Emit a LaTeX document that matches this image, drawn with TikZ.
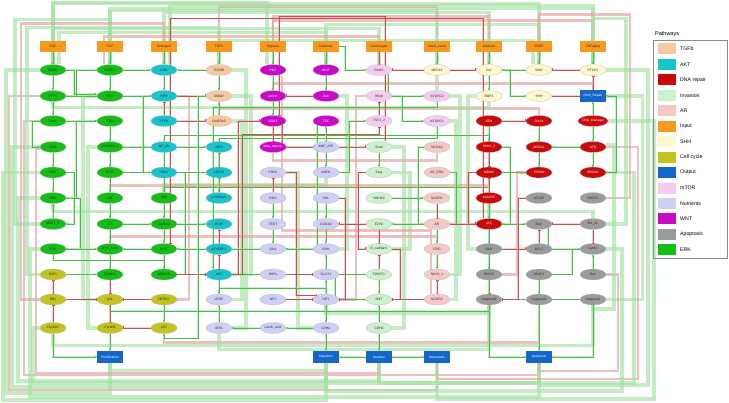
\documentclass[tikz,border=0pt]{standalone}
\usepackage{fontspec}
\setmainfont{Liberation Sans}
\usetikzlibrary{arrows.meta,shapes.geometric,calc,backgrounds}
\definecolor{cTGF}{HTML}{F8C9A0}
\definecolor{cAKT}{HTML}{19C3CC}
\definecolor{cDNA}{HTML}{C80A0A}
\definecolor{cINV}{HTML}{CDF0CD}
\definecolor{cAR}{HTML}{F5C8C8}
\definecolor{cIN}{HTML}{F59A1E}
\definecolor{cSHH}{HTML}{FFF8CC}
\definecolor{cCC}{HTML}{C3C31E}
\definecolor{cOUT}{HTML}{1466C8}
\definecolor{cMTR}{HTML}{F5CCF0}
\definecolor{cNUT}{HTML}{CFCFF5}
\definecolor{cWNT}{HTML}{C80AC8}
\definecolor{cAPO}{HTML}{9B9B9B}
\definecolor{cERK}{HTML}{14BE14}
\definecolor{eG}{HTML}{46BE46}
\definecolor{eR}{HTML}{C85050}
\definecolor{bGc}{HTML}{A4E2A4}
\definecolor{bRc}{HTML}{E6A4A4}
\tikzset{
 nb/.style={ellipse,minimum width=26pt,minimum height=11pt,inner sep=0pt,draw=black!30,line width=.2pt,font=\fontsize{3.3}{3.6}\selectfont,text=black!85},
 erk/.style={nb,fill=cERK},
 akt/.style={nb,fill=cAKT},
 tgf/.style={nb,fill=cTGF},
 wnt/.style={nb,fill=cWNT,text=white},
 mtr/.style={nb,fill=cMTR},
 shh/.style={nb,fill=cSHH},
 dna/.style={nb,fill=cDNA,text=white},
 nut/.style={nb,fill=cNUT},
 inv/.style={nb,fill=cINV},
 arn/.style={nb,fill=cAR},
 apo/.style={nb,fill=cAPO},
 ccy/.style={nb,fill=cCC},
 inbox/.style={rectangle,minimum width=26pt,minimum height=11pt,inner sep=0pt,fill=cIN,font=\fontsize{3.3}{3.6}\selectfont,text=black!85},
 outbox/.style={rectangle,minimum width=26pt,minimum height=12pt,inner sep=0pt,fill=cOUT,text=white,font=\fontsize{3.3}{3.6}\selectfont},
 act/.style={preaction={draw=bGc,line width=1.6pt,opacity=.55,-},draw=eG,line width=.45pt,-{Stealth[length=2.2pt,width=2pt]}},
 inh/.style={preaction={draw=bRc,line width=1.6pt,opacity=.5,-},draw=eR,line width=.45pt,-{Bar[width=3pt]}},
 bG/.style={draw=bGc,line width=3.4pt,opacity=.65},
 bR/.style={draw=bRc,line width=2.6pt,opacity=.7},
 legsq/.style={rectangle,minimum width=18pt,minimum height=11pt,inner sep=0pt},
 legtx/.style={anchor=west,font=\fontsize{5.2}{6}\selectfont,inner sep=0pt},
}
\begin{document}
\begin{tikzpicture}[x=1pt,y=-1pt]
\useasboundingbox (0,0) rectangle (729,403);
% inputs
\node[inbox] (EGF) at (53,46.5) {EGF};
\node[inbox] (FGF) at (110,46.5) {FGF};
\node[inbox] (Androgen) at (164,46.5) {Androgen};
\node[inbox] (TGFb) at (219,46.5) {TGFb};
\node[inbox] (Hypoxia) at (273,46.5) {Hypoxia};
\node[inbox] (Nutrients) at (326,46.5) {Nutrients};
\node[inbox] (Carcinogen) at (379,46.5) {Carcinogen};
\node[inbox] (fused) at (437,46.5) {fused\_event};
\node[inbox] (Acidosis) at (489,46.5) {Acidosis};
\node[inbox] (SPOP) at (539,46.5) {SPOP};
\node[inbox] (TNFalpha) at (593,46.5) {TNFalpha};
% row 1
\node[erk] (EGFR) at (53,70) {EGFR};
\node[erk] (FGFR3) at (110,70) {FGFR3};
\node[akt] (PI3K) at (164,70) {PI3K};
\node[tgf] (TGFBR) at (219,70) {TGFBR};
\node[wnt] (PKC) at (273,70) {PKC};
\node[wnt] (WNT) at (326,70) {WNT};
\node[mtr] (RAGS) at (379,70) {RAGS};
\node[shh] (MED12) at (437,70) {MED12};
\node[shh] (GLI) at (489,70) {GLI};
\node[shh] (SMO) at (539,70) {SMO};
\node[shh] (PTCH1) at (593,70) {PTCH1};
% row 2
\node[erk] (GRB2) at (53,96) {PTPC};
\node[erk] (FRS2) at (110,96) {FRS2};
\node[akt] (PIP3) at (164,96) {PIP3};
\node[tgf] (SMAD) at (219,96) {SMAD};
\node[wnt] (AXIN1) at (273,96) {AXIN1};
\node[wnt] (Dsh) at (326,96) {Dsh};
\node[mtr] (Rheb) at (379,96) {Rheb};
\node[mtr] (mTORC2) at (437,96) {mTORC2};
\node[shh] (BMP2) at (489,96) {BMP2};
\node[shh] (SHH) at (539,96) {SHH};
\node[outbox] (DNArep) at (593,96) {DNA\_Repair};
% row 3
\node[erk] (TAK1) at (53,121) {TAK1};
\node[erk] (ETS1) at (110,121) {ETS1};
\node[akt] (PTEN) at (164,121) {PTEN};
\node[tgf] (GADD45) at (219,121) {GADD45};
\node[wnt] (GSK3) at (273,121) {GSK3};
\node[wnt] (TCF) at (326,121) {TCF};
\node[mtr] (TSC12) at (379,121) {TSC1\_2};
\node[mtr] (mTORC1) at (437,121) {mTORC1};
\node[dna] (ATM) at (489,121) {ATM};
\node[dna] (DAXX) at (539,121) {DAXX};
\node[dna] (DNAdam) at (593,121) {DNA\_Damage};
% row 4
\node[erk] (RAS) at (53,147) {RAS};
\node[erk] (MAP3K) at (110,147) {MAP3K1\_3};
\node[akt] (NFkB) at (164,147) {NF\_kB};
\node[akt] (eEF2) at (219,147) {eEF2};
\node[wnt] (bcat) at (273,147) {beta\_catenin};
\node[nut] (AMPATP) at (326,147) {AMP\_ATP};
\node[inv] (Snail) at (379,147) {Snail};
\node[arn] (NCOA3) at (437,147) {NCOA3};
\node[dna] (CHK12) at (489,147) {CHK1\_2};
\node[dna] (BRCA1) at (539,147) {BRCA1};
\node[dna] (ATR) at (593,147) {ATR};
% row 5
\node[erk] (RAF) at (53,172.5) {RAF};
\node[erk] (ETV1) at (110,172.5) {ETV1};
\node[akt] (PDK1) at (164,172.5) {PDK1};
\node[akt] (eEF2K) at (219,172.5) {eEF2K};
\node[nut] (PHDs) at (273,172.5) {PHDs};
\node[nut] (AMPK) at (326,172.5) {AMPK};
\node[inv] (Slug) at (379,172.5) {Slug};
\node[arn] (ARERG) at (437,172.5) {AR\_ERG};
\node[dna] (MDM2) at (489,172.5) {MDM2};
\node[dna] (EP300) at (539,172.5) {EP300};
\node[dna] (BRCA2) at (593,172.5) {BRCA2};
% row 6
\node[erk] (ERK) at (53,198) {ERK};
\node[erk] (JNK) at (110,198) {JNK};
\node[erk] (p38) at (164,198) {p38};
\node[akt] (p70) at (219,198) {p70S6kab};
\node[nut] (ROS) at (273,198) {ROS};
\node[nut] (VHL) at (326,198) {VHL};
\node[inv] (YWHAZ) at (379,198) {YWHAZ};
\node[arn] (NCOR1) at (437,198) {NCOR1};
\node[dna] (p14ARF) at (489,198) {p14ARF};
\node[apo] (cFLAR) at (539,198) {cFLAR};
\node[apo] (RAD51) at (593,198) {RAD51};
% row 7
\node[erk] (MEK) at (53,224) {MEK1\_2};
\node[erk] (JUN) at (110,224) {JUN};
\node[erk] (RUNX2) at (164,224) {RUNX2};
\node[akt] (eIF4E) at (219,224) {eIF4E};
\node[nut] (TERT) at (273,224) {TERT};
\node[nut] (COX4I2) at (326,224) {COX4I2};
\node[inv] (EZH2) at (379,224) {EZH2};
\node[arn] (AR) at (437,224) {AR};
\node[dna] (p53) at (489,224) {p53};
\node[apo] (BAX) at (539,224) {BAX};
\node[apo] (BclXL) at (593,224) {Bcl\_XL};
% row 8
\node[erk] (FOS) at (53,249) {FOS};
\node[erk] (MYCMAX) at (110,249) {MYC\_MAX};
\node[erk] (MYC) at (164,249) {MYC};
\node[akt] (eIF4EBP1) at (219,249) {eIF4EBP1};
\node[nut] (SIN1) at (273,249) {SIN1};
\node[nut] (GSH) at (326,249) {GSH};
\node[inv] (Ecad) at (379,249) {E\_cadherin};
\node[arn] (ERG) at (437,249) {ERG};
\node[apo] (BAD) at (489,249) {BAD};
\node[apo] (BCL2) at (539,249) {BCL2};
\node[apo] (CytoC) at (593,249) {CytoC};
% row 9
\node[ccy] (E2F1) at (53,274.5) {E2F1};
\node[erk] (FOXA1) at (110,274.5) {FOXO1};
\node[erk] (p90RSK) at (164,274.5) {p90RSK};
\node[akt] (AKT) at (219,274.5) {AKT};
\node[nut] (HSPs) at (273,274.5) {HSPs};
\node[nut] (GLUT1) at (326,274.5) {GLUT1};
\node[inv] (TWIST1) at (379,274.5) {TWIST1};
\node[arn] (NKX31) at (437,274.5) {NKX3\_1};
\node[apo] (BIRC5) at (489,274.5) {BIRC5};
\node[apo] (APAF1) at (539,274.5) {APAF1};
\node[apo] (Bak) at (593,274.5) {Bax};
% row 10
\node[ccy] (RB1) at (53,299.5) {RB1};
\node[ccy] (p21) at (110,299.5) {p21};
\node[ccy] (ZBTB17) at (164,299.5) {ZBTB17};
\node[nut] (VEGF) at (219,299.5) {VEGF};
\node[nut] (NF1) at (273,299.5) {NF1};
\node[nut] (HIF1) at (326,299.5) {HIF1};
\node[inv] (EMT) at (379,299.5) {EMT};
\node[arn] (NCOR2) at (437,299.5) {NCOR2};
\node[apo] (Casp8) at (489,299.5) {Caspase8};
\node[apo] (Casp9) at (539,299.5) {Caspase9};
\node[apo] (Casp3) at (593,299.5) {Caspase3};
% row 11
\node[ccy] (CycD) at (53,328) {CyclinD};
\node[ccy] (CycB) at (110,328) {CyclinB};
\node[ccy] (p15) at (164,328) {p15};
\node[nut] (IDH1) at (219,328) {IDH1};
\node[nut] (Lactic) at (273,328) {Lactic\_acid};
\node[nut] (LDHA) at (326,328) {LDHA};
\node[inv] (CDH2) at (379,328) {CDH2};
% outputs
\node[outbox] (Prolif) at (110,357) {Proliferation};
\node[outbox] (Migr) at (326,357) {Migration};
\node[outbox] (Inva) at (379,357) {Invasion};
\node[outbox] (Meta) at (437,357) {Metastasis};
\node[outbox] (Apop) at (539,357) {Apoptosis};
% legend
\node[anchor=west,font=\fontsize{5.5}{6}\selectfont,inner sep=0pt] (legT) at (655,34) {Pathways};
\draw[black!45,line width=.4pt] (653,40) rectangle (727,258);
\foreach \c/\t [count=\i from 0] in {cTGF/TGFb,cAKT/AKT,cDNA/DNA repair,cINV/Invasion,cAR/AR,cIN/Input,cSHH/SHH,cCC/Cell cycle,cOUT/Output,cMTR/mTOR,cNUT/Nutrients,cWNT/WNT,cAPO/Apoptosis,cERK/ERK}{
 \node[legsq,fill=\c] (lq\i) at (667,49+15.45*\i) {};
 \node[legtx] (lt\i) at (680,49+15.45*\i) {\t};
}
\begin{scope}[on background layer]
\fill[white] (0,0) rectangle (729,403);
% ---- bands top
\draw[bG] (EGFR.north) |- ([yshift=61]SMO.north) -- (SMO.north);
\draw[bG] (FGFR3.north) |- ([yshift=56]PTCH1.north) -- (PTCH1.north);
\draw[bG] (PI3K.north) |- ([yshift=52]GLI.north) -- (GLI.north);
\draw[bR] (TGFBR.north) |- ([yshift=58]MED12.north) -- (MED12.north);
\draw[bR] (PKC.north) |- ([yshift=44]PTCH1.north) -- (PTCH1.north);
\draw[bG] (WNT.north) |- ([yshift=40]SMO.north) -- (SMO.north);
\draw[bG] (RAGS.north) |- ([yshift=36]EGFR.north) -- (EGFR.north);
\draw[bG] (mTORC2.north) |- ([yshift=54]FGFR3.north) -- (FGFR3.north);
\draw[bR] (GLI.north) |- ([yshift=48]PKC.north) -- (PKC.north);
\draw[bG] ([xshift=6]EGFR.north) |- ([yshift=32]WNT.north) -- (WNT.north);
\draw[bR] ([xshift=-6]FGFR3.north) |- ([yshift=28]RAGS.north) -- (RAGS.north);
\draw[bG] ([xshift=6]PI3K.north) |- ([yshift=59]PTCH1.north) -- (PTCH1.north);
\draw[bG] ([xshift=-6]PKC.north) |- ([yshift=62]EGFR.north) -- (EGFR.north);
\draw[bG] ([xshift=-6]SMO.north) |- ([yshift=24]TGFBR.north) -- (TGFBR.north);
% ---- bands left
\draw[bG] (EGFR.west) -- ++(-34,0) |- ([yshift=-30]Prolif.south) -- (Prolif.south);
\draw[bG] (RAS.west) -- ++(-28,0) |- ([yshift=-24]Migr.south) -- (Migr.south);
\draw[bG] (ERK.west) -- ++(-22,0) |- ([yshift=-18]Inva.south) -- (Inva.south);
\draw[bR] (GRB2.west) -- ++(-31,0) |- ([yshift=-27]Meta.south) -- (Meta.south);
\draw[bR] (TAK1.west) -- ++(-16,0) |- ([yshift=-12]Apop.south) -- (Apop.south);
\draw[bG] (FOS.west) -- ++(-10,0) |- ([yshift=-34]Apop.south) -- (Apop.south);
\draw[bG] (MEK.west) -- ++(-25,0) |- ([yshift=45]FGFR3.north) -- (FGFR3.north);
\draw[bR] (RB1.west) -- ++(-19,0) |- ([yshift=41]PI3K.north) -- (PI3K.north);
\draw[bG] (E2F1.west) -- ++(-13,0) |- ([yshift=37]TGFBR.north) -- (TGFBR.north);
\draw[bG] (RAF.west) -- ++(-37,0) |- ([yshift=-37]Migr.south) -- (Migr.south);
\draw[bG] (CycD.west) -- ++(-7,0) |- ([yshift=-20]Apop.south) -- (Apop.south);
\draw[bR] ([yshift=-2]RAS.west) -- ++(-4,0) |- ([yshift=-10]Inva.south) -- (Inva.south);
% ---- bands right
\draw[bG] (PTCH1.east) -- ++(42,0) |- ([yshift=-22]Apop.south) -- (Apop.south);
\draw[bG] (DNArep.east) -- ++(36,0) |- (Casp3.east);
\draw[bR] (ATR.east) -- ++(32,0) |- ([yshift=-16]Meta.south) -- (Meta.south);
\draw[bG] (BRCA2.east) -- ++(28,0) |- ([yshift=-20]Inva.south) -- (Inva.south);
\draw[bR] (RAD51.east) -- ++(24,0) |- ([yshift=50]SMO.north) -- (SMO.north);
\draw[bG] (BclXL.east) -- ++(20,0) |- ([yshift=46]PTCH1.north) -- (PTCH1.north);
\draw[bG] (CytoC.east) -- ++(16,0) |- ([yshift=-28]Migr.south) -- (Migr.south);
\draw[bR] (Bak.east) -- ++(12,0) |- ([yshift=-8]Apop.south) -- (Apop.south);
\draw[bG] (DNAdam.east) -- ++(46,0) |- ([yshift=-36]Meta.south) -- (Meta.south);
\draw[bG] ([yshift=2]ATR.east) -- ++(8,0) |- ([yshift=-4]Casp3.south) -- (Casp3.south);
% ---- bands interior
\draw[bG] (TGFBR.east) -- ++(14,0) |- (IDH1.east);
\draw[bG] (SMAD.east) -- ++(19,0) |- (AKT.east);
\draw[bG] (GADD45.east) -- ++(10,0) |- (VEGF.east);
\draw[bG] (mTORC2.east) -- ++(10,0) |- (NKX31.east);
\draw[bG] (mTORC1.east) -- ++(6,0) |- (NCOR2.east);
\draw[bG] (Snail.east) -- ++(12,0) |- (CDH2.east);
\draw[bG] (Slug.east) -- ++(18,0) |- (Ecad.east);
\draw[bG] (FRS2.west) -- ++(-14,0) |- (p21.west);
\draw[bG] (MAP3K.west) -- ++(-9,0) |- (CycB.west);
\draw[bR] (Rheb.west) -- ++(-10,0) |- (HIF1.east);
\draw[bG] (PHDs.east) -- ++(12,0) |- (LDHA.west);
\draw[bR] (PIP3.east) -- ++(12,0) |- (ZBTB17.east);
\draw[bR] (SMAD.south) -- ++(0,7) -| (DAXX.north);
\draw[bG] (ERK.south) -- ++(0,8) -| (p53.north);
\draw[bR] (MYCMAX.north) -- ++(0,-7) -| (ERG.north);
\draw[bG] (p14ARF.south) -- ++(0,8) -| (BclXL.north);
\draw[bG] (AMPK.south) -- ++(0,7) -| (p38.north);
\draw[bR] (bcat.south) -- ++(0,8) -| (NCOA3.south);
\draw[bG] (HIF1.south) -- ++(0,8) -| (Casp8.south);
\draw[bG] (CycD.south) -- ++(0,12) -| (Casp3.south);
\draw[bR] (p15.south) -- ++(0,9) -| (Casp9.south);
\draw[bG] (IDH1.south) -- ++(0,16) -| (Casp8.south);
\draw[bG] (Prolif.south) -- ++(0,8) -| (Migr.south);
\draw[bG] (GRB2.south) -- ++(0,6) -| (BMP2.south);
\draw[bR] (AXIN1.north) -- ++(0,-7) -| (DNArep.north);
\draw[bG] (Dsh.east) -- ++(8,0) |- (GSH.east);
\draw[bG] (BMP2.west) -- ++(-8,0) |- (BAD.west);
\draw[bR] (EP300.west) -- ++(-9,0) |- (BIRC5.east);
\draw[bR] ([xshift=9]PKC.south) -- ++(0,155) -| ([xshift=-6]NCOR2.north);
\draw[bR] (JNK.north) -- ++(0,-7) -| (CHK12.south);
% ---- local edges: inputs
\draw[act] (EGF) -- (EGFR);
\draw[act] (FGF) -- (FGFR3);
\draw[act] (Androgen) -- (PI3K);
\draw[act] (TGFb) -- (TGFBR);
\draw[act] (Hypoxia) -- (PKC);
\draw[act] (Nutrients) -- (WNT);
\draw[inh] (Carcinogen) -- (RAGS);
\draw[act] (Nutrients.east) -- ++(6,0) |- (RAGS.west);
\draw[act] (fused) -- (MED12);
\draw[act] (Acidosis) -- (GLI);
\draw[act] (SPOP) -- (SMO);
\draw[act] (TNFalpha) -- (PTCH1);
% ERK
\draw[act] (EGFR) -- (GRB2);
\draw[act] (FGFR3) -- (FRS2);
\draw[act] (FRS2) -- (GRB2);
\draw[act] (EGFR.east) -- ++(8,0) |- ([yshift=2]FRS2.west);
\draw[act] (GRB2) -- (TAK1);
\draw[act] (TAK1.west) -- ++(-8,0) |- (RAS.west);
\draw[act] (RAS) -- (RAF);
\draw[act] (RAF) -- (ERK);
\draw[act] (RAF.east) -- ++(8,0) |- (MEK.east);
\draw[act] (MEK) -- (ERK);
\draw[act] (ERK.east) -- ++(14,0) |- (FOS.east);
\draw[act] (FOS) -- (MYCMAX);
\draw[act] (ETS1) -- (MAP3K);
\draw[act] (MAP3K) -- (ETV1);
\draw[act] (ETV1) -- (JNK);
\draw[act] (JNK) -- (JUN);
\draw[act] (MAP3K.east) -| (p38.north);
\draw[act] (p38) -- (RUNX2);
\draw[act] (RUNX2) -- (MYC);
\draw[act] (MYC) -- (MYCMAX);
\draw[act] (JUN) -- (MYCMAX);
\draw[act] (TAK1) -- (ETS1);
\draw[act] (MYCMAX) -- (FOXA1);
\draw[act] (MYC) -- (p90RSK);
\draw[act] (ERK.east) -- ++(10,0) |- (ETS1.west);
\draw[act] (FOS.south) -- ++(0,6) -| (p90RSK.north);
\draw[act] (GRB2.east) -- ++(10,0) |- (PI3K.west);
\draw[act] (JUN.east) -- (RUNX2.west);
\draw[act] (ETV1.east) -- (PDK1.west);
\draw[act] (E2F1.east) -- (FOXA1.west);
\draw[act] (p38.north) -- ++(0,-5) -| (MDM2.south);
% AKT
\draw[act] (PI3K) -- (PIP3);
\draw[inh] (PTEN) -- (PIP3);
\draw[act] (PIP3.west) -- ++(-8,0) |- (PDK1.west);
\draw[act] (PDK1.east) -- ++(8,0) |- (AKT.west);
\draw[inh] (eEF2K) -- (eEF2);
\draw[inh] (p70) -- (eEF2K);
\draw[inh] (eIF4EBP1) -- (eIF4E);
\draw[inh] (AKT) -- (eIF4EBP1);
\draw[act] (AKT) -- (VEGF);
\draw[act] (HSPs) -- (AKT);
\draw[act] (TGFBR) -- (PI3K);
\draw[act] (mTORC1.south) -- ++(0,12) -| (p70.north);
\draw[inh] (AKT.east) -- ++(6,0) |- (GSK3.west);
\draw[inh] (AKT.east) -- ++(10,0) |- ([yshift=-8]TSC12.south) -- (TSC12.south);
\draw[act] (mTORC2.south) -- ++(0,6) -| ([xshift=-6]AKT.north);
\draw[act] (NFkB.east) -- (eEF2.west);
\draw[act] (PDK1.east) -- (eEF2K.west);
\draw[act] (RUNX2.east) -- (eIF4E.west);
\draw[inh] (PTEN.east) -- (GADD45.west);
\draw[act] (FRS2.east) -- (PIP3.west);
\draw[inh] (p90RSK.east) -- (AKT.west);
\draw[act] (NFkB.north) -- ++(0,-6) -| (BIRC5.north);
% TGFb, WNT
\draw[act] (TGFBR) -- (SMAD);
\draw[act] (SMAD) -- (GADD45);
\draw[act] (WNT) -- (Dsh);
\draw[inh] (Dsh) -- (AXIN1);
\draw[act] (AXIN1) -- (GSK3);
\draw[inh] (GSK3) -- (bcat);
\draw[act] (bcat.east) -| (TCF.south);
\draw[act] (PKC) -- (AXIN1);
\draw[inh] (GSK3.south east) |- (Snail.west);
\draw[act] (TCF.south west) |- (MYC.east);
\draw[inh] (PIP3.east) -- (SMAD.west);
\draw[inh] ([xshift=6]Snail.north) -- ++(0,-125) -| ([xshift=6]GSK3.north);
% mTOR
\draw[act] (RAGS.south east) |- (mTORC2.west);
\draw[inh] (MED12) -- (RAGS);
\draw[inh] (TSC12) -- (Rheb);
\draw[act] (Rheb.east) -- ++(10,0) |- (mTORC1.west);
\draw[act] (AMPK.east) -- ++(10,0) |- (TSC12.west);
% SHH
\draw[inh] (MED12) -- (GLI);
\draw[act] (SMO) -- (GLI);
\draw[inh] (PTCH1) -- (SMO);
\draw[act] (GLI) -- (BMP2);
\draw[inh] (SHH.east) -| (PTCH1.south);
\draw[act] (GLI.east) -- ++(8,0) |- (SHH.west);
% DNA
\draw[act] (DNAdam) -- (DNArep);
\draw[act] (DNAdam) -- (ATR);
\draw[inh] (ATM) -- (DAXX);
\draw[act] (ATM) -- (CHK12);
\draw[act] (ATR) -- (BRCA1);
\draw[act] (ATR) -- (BRCA2);
\draw[act] (BRCA2.east) -- ++(10,0) |- (DNArep.east);
\draw[inh] (CHK12) -- (MDM2);
\draw[inh] (p14ARF) -- (MDM2);
\draw[inh] (MDM2.west) -- ++(-8,0) |- (p53.west);
\draw[act] (CHK12.east) -- ++(8,0) |- (p53.east);
\draw[act] (p14ARF) -- (p53);
\draw[act] (DAXX) -- (BRCA1);
\draw[act] (BRCA1) -- (EP300);
\draw[act] (EP300) -- (MDM2);
\draw[inh] ([xshift=-6]p53.north) -- ++(0,-200) -| ([xshift=6]MYC.north);
% apoptosis
\draw[act] (p53) -- (BAX);
\draw[inh] (BCL2) -- (BAX);
\draw[inh] (BclXL) -- (BAX);
\draw[act] (BAX.south east) |- (CytoC.west);
\draw[inh] (BclXL) -- (CytoC);
\draw[act] (p53) -- (BAD);
\draw[inh] (BAD) -- (BCL2);
\draw[act] (CytoC.west) -- ++(-8,0) |- (APAF1.east);
\draw[act] (APAF1) -- (Casp9);
\draw[act] (Casp8) -- (Casp9);
\draw[act] (Casp9) -- (Casp3);
\draw[inh] (BIRC5) -- (Casp8);
\draw[act] (Casp9) -- (Apop);
\draw[act] (Casp3.south) |- (Apop.east);
\draw[act] (Casp8.south) |- (Apop.west);
\draw[act] (Bak) -- (CytoC);
\draw[inh] (cFLAR.west) -- ++(-8,0) |- (Casp8.east);
\draw[act] (p53.south) |- ([yshift=-6]p21.south) -- (p21.south);
% AR
\draw[inh] (NCOR1) -- (AR);
\draw[act] (NCOA3.west) -- ++(-6,0) |- (AR.west);
\draw[act] (ARERG.east) -- ++(6,0) |- (AR.east);
\draw[act] (AR) -- (ERG);
\draw[act] (ERG) -- (NKX31);
\draw[inh] (NCOR2) -- (NKX31);
\draw[inh] (AR) -- (p53);
\draw[act] (AR) -- (EZH2);
\draw[act] (YWHAZ) -- (NCOR1);
\draw[inh] (NCOR2) -- (EMT);
% invasion
\draw[act] (Snail) -- (Slug);
\draw[inh] (Slug.west) -- ++(-8,0) |- (Ecad.west);
\draw[inh] (EZH2) -- (Ecad);
\draw[inh] (TWIST1) -- (Ecad);
\draw[inh] (Ecad.east) -- ++(8,0) |- (EMT.east);
\draw[act] (TWIST1) -- (EMT);
\draw[act] (CDH2) -- (EMT);
\draw[act] (HIF1) -- (EMT);
\draw[act] (CDH2) -- (Inva);
\draw[act] (Inva) -- (Migr);
\draw[act] (Inva) -- (Meta);
\draw[inh] (EZH2) -- (COX4I2);
\draw[act] (HIF1.north east) |- (TWIST1.west);
% nutrients
\draw[act] (AMPATP) -- (AMPK);
\draw[inh] (ROS) -- (PHDs);
\draw[act] (ROS) -- (TERT);
\draw[act] (VHL) -- (COX4I2);
\draw[act] (COX4I2) -- (GSH);
\draw[act] (GLUT1) -- (GSH);
\draw[act] (HIF1) -- (GLUT1);
\draw[act] (HIF1) -- (LDHA);
\draw[act] (LDHA) -- (Lactic);
\draw[act] (LDHA) -- (Migr);
\draw[inh] (NF1) -- (HIF1);
\draw[inh] (PHDs.east) -- ++(10,0) |- (HIF1.north west);
\draw[inh] (VHL.east) -- ++(6,0) |- (HIF1.east);
\draw[act] (IDH1) -- (VEGF);
\draw[act] (TERT) -- (SIN1);
\draw[act] (GSH) -- (SIN1);
\draw[inh] (HSPs) -- (GLUT1);
\draw[act] (Lactic) -- (IDH1);
\draw[act] (HIF1.north) -- ++(0,-6) -| (VEGF.north);
% cell cycle
\draw[inh] (RB1) -- (E2F1);
\draw[inh] (CycD) -- (RB1);
\draw[act] (CycD.south) |- (Prolif.west);
\draw[act] (CycB) -- (Prolif);
\draw[inh] (p21) -- (CycB);
\draw[inh] (p15) -- (CycB);
\draw[act] (ZBTB17) -- (p15);
\draw[inh] (ZBTB17) -- (p21);
\draw[inh] (FOXA1) -- (p21);
\draw[inh] (RB1) -- (p21);
\draw[act] (SMAD.west) -- ++(-8,0) |- ([yshift=-5]p15.south) -- (p15.south);
\end{scope}
\end{tikzpicture}
\end{document}
